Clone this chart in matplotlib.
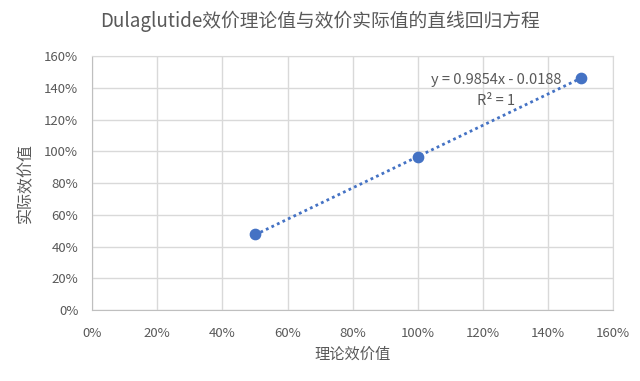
import matplotlib
matplotlib.use("Agg")
import matplotlib.pyplot as plt
from matplotlib.ticker import FuncFormatter, MultipleLocator
import numpy as np

plt.rcParams['font.family'] = ['Noto Sans CJK SC', 'DejaVu Sans']

theoretical = [0.50, 1.00, 1.50]
actual = [0.48, 0.966, 1.459]
slope = 0.9854
intercept = -0.0188
title = "Dulaglutide效价理论值与效价实际值的直线回归方程"
xlabel = "理论效价值"
ylabel = "实际效价值"

blue = "#4472C4"
gray = "#595959"
grid = "#D9D9D9"

fig = plt.figure(figsize=(6.4, 3.81), dpi=100)
ax = fig.add_axes([0.144, 0.186, 0.814, 0.667])

tx = np.array([theoretical[0], theoretical[-1]])
ax.plot(tx, slope * tx + intercept, linestyle=(0, (1, 1.2)), color=blue, lw=2, zorder=2)
ax.scatter(theoretical, actual, s=55, color=blue, zorder=3)

ax.set_xlim(0, 1.6)
ax.set_ylim(0, 1.6)
ax.xaxis.set_major_locator(MultipleLocator(0.2))
ax.yaxis.set_major_locator(MultipleLocator(0.2))
fmt = FuncFormatter(lambda v, p: f"{v*100:.0f}%")
ax.xaxis.set_major_formatter(fmt)
ax.yaxis.set_major_formatter(fmt)
ax.grid(True, color=grid, lw=1)
ax.set_axisbelow(True)
for s in ax.spines.values():
    s.set_color(grid)
ax.spines['bottom'].set_color("#BFBFBF")
ax.spines['left'].set_color("#BFBFBF")
ax.tick_params(length=0, colors=gray, labelsize=9.5)
ax.tick_params(axis='x', pad=12)
ax.tick_params(axis='y', pad=10)

ax.set_xlabel(xlabel, color=gray, fontsize=11, labelpad=4)
ax.set_ylabel(ylabel, color=gray, fontsize=11.5, labelpad=7)
fig.text(0.5, 0.945, title, ha='center', va='center', color=gray, fontsize=13.5)

ax.text(1.241, 1.449, f"y = {slope}x - {abs(intercept)}", ha='center', va='center', color=gray, fontsize=10.5)
ax.text(1.241, 1.317, "R² = 1", ha='center', va='center', color=gray, fontsize=10.5)

fig.savefig("out.png", dpi=100)
